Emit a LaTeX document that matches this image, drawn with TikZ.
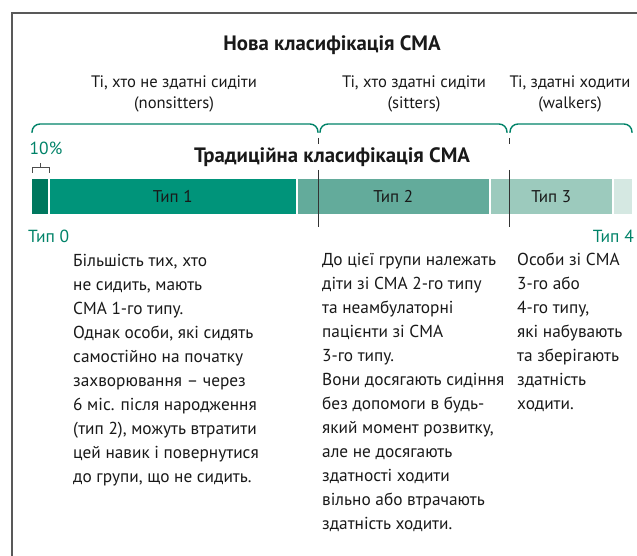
\documentclass[tikz,border=0pt]{standalone}
\usepackage{fontspec}
\setmainfont{PT Sans}
\usetikzlibrary{positioning,calc}

\definecolor{smagreen}{RGB}{0,130,104}
\definecolor{tpzero}{RGB}{0,120,95}
\definecolor{tpone}{RGB}{0,148,122}
\definecolor{tptwo}{RGB}{99,171,155}
\definecolor{tpthree}{RGB}{156,202,189}
\definecolor{tpfour}{RGB}{213,232,226}
\definecolor{ink}{RGB}{25,25,25}

\begin{document}
\begin{tikzpicture}[
  x=1pt,y=-1pt,
  frame/.style={line width=2pt,draw=black!65},
  brace/.style={line width=1.4pt,draw=smagreen,rounded corners=8pt},
  seg/.style={anchor=north west,minimum height=35pt,inner sep=0pt,outer sep=0pt,
              text=ink,font=\fontsize{17}{18}\selectfont},
  ttl/.style={text=ink,font=\bfseries\fontsize{20.8}{22}\selectfont},
  grp/.style={align=center,text=ink,font=\fontsize{16.6}{20.5}\selectfont},
  body/.style={align=left,anchor=north west,inner sep=0pt,text=ink,
               font=\fontsize{17.3}{24}\selectfont},
  gtxt/.style={text=smagreen,inner sep=0pt,font=\fontsize{17.5}{18}\selectfont},
  sep/.style={line width=0.9pt,draw=black!80},
  tick/.style={line width=0.8pt,draw=black!70}
]
\useasboundingbox (0,0) rectangle (637,556);

% ================= frame =================
\draw[frame] (12,556) -- (12,13) -- (637,13);

% ================= new classification =================
\node[ttl] (newcls) at (332,45) {Нова класифікація СМА};

\node[grp] (nonsit) at (174,94) {Ті, хто не здатні сидіти\\(nonsitters)};
\node[grp] (sit)    at (414,94) {Ті, хто здатні сидіти\\(sitters)};
\node[grp] (walk)   at (570,94) {Ті, здатні ходити\\(walkers)};

\draw[brace] (32,133)  -- (32,124)  -- (318,124) -- (318,133);
\draw[brace] (320,133) -- (320,124) -- (507,124) -- (507,133);
\draw[brace] (510,133) -- (510,124) -- (632,124) -- (632,133);

% ================= traditional classification =================
\node[ttl] (oldcls) at (332,157) {Традиційна класифікація СМА};

\node[gtxt] (pct) at (46,148) {10\%};
\draw[tick] (32,173) -- (32,167) -- (49,167) -- (49,173);
\draw[tick] (40.5,167) -- (40.5,163);

% bar of types
\node[seg,fill=tpzero, minimum width=16pt]    (tp0) at (32,179)    {};
\node[seg,fill=tpone,  minimum width=246.5pt] (tp1) at (49.5,179)  {Тип 1};
\node[seg,fill=tptwo,  minimum width=191.5pt] (tp2) at (297.5,179) {Тип 2};
\node[seg,fill=tpthree,minimum width=121.5pt] (tp3) at (490.5,179) {Тип 3};
\node[seg,fill=tpfour, minimum width=18.5pt]  (tp4) at (613.5,179) {};

% boundaries between the groups
\foreach \bx in {318,509}{
  \draw[sep] (\bx,138) -- (\bx,144);
  \draw[sep] (\bx,170) -- (\bx,227);
}

\node[gtxt,anchor=west] (lbl0) at (28,236)  {Тип 0};
\node[gtxt,anchor=east] (lbl4) at (634,236) {Тип 4};

% ================= descriptions =================
\node[body] (txt1) at (73,254)
  {Більшість тих, хто\\не сидить, мають\\СМА 1-го типу.\\Однак особи, які сидять\\
   самостійно на початку\\захворювання – через\\6 міс. після народження\\
   (тип 2), можуть втратити\\цей навик і повернутися\\до групи, що не сидить.};
\node[body] (txt2) at (322,253)
  {До цієї групи належать\\діти зі СМА 2-го типу\\та неамбулаторні\\пацієнти зі СМА\\
   3-го типу.\\Вони досягають сидіння\\без допомоги в будь-\\який момент розвитку,\\
   але не досягають\\здатності ходити\\вільно або втрачають\\здатність ходити.};
\node[body] (txt3) at (517,253)
  {Особи зі СМА\\3-го або\\4-го типу,\\які набувають\\та зберігають\\здатність\\ходити.};

\end{tikzpicture}
\end{document}
